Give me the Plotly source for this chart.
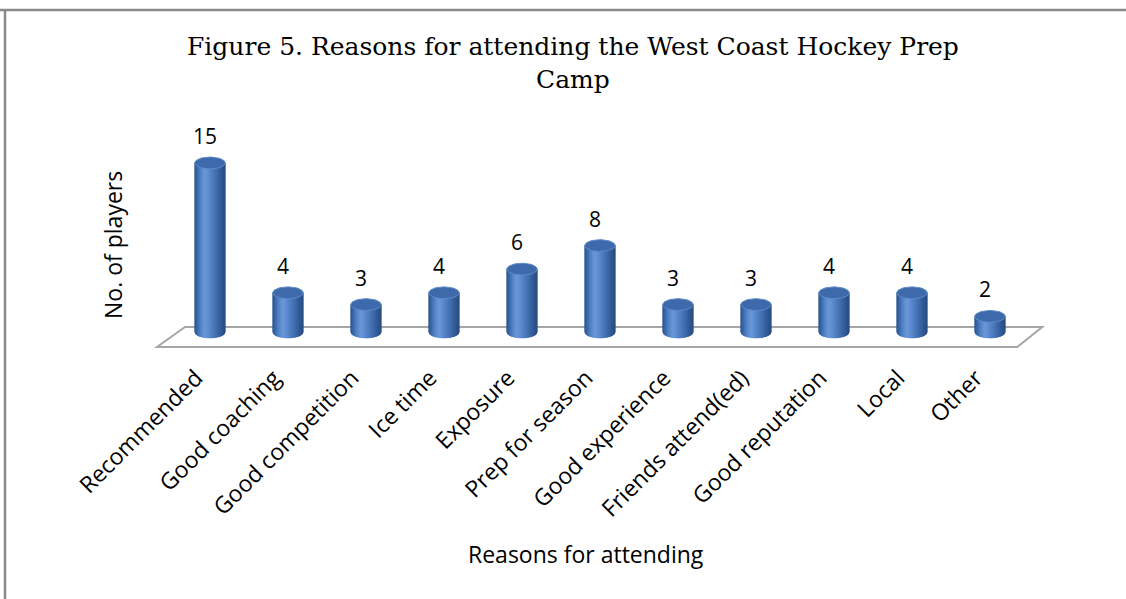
import numpy as np
import plotly.graph_objects as go

# ---- data ----
reasons = ["Recommended", "Good coaching", "Good competition", "Ice time", "Exposure",
           "Prep for season", "Good experience", "Friends attend(ed)", "Good reputation",
           "Local", "Other"]
players = [15, 4, 3, 4, 6, 8, 3, 3, 4, 4, 2]

title_text = "Figure 5. Reasons for attending the West Coast Hockey Prep<br>Camp"
x_title = "Reasons for attending"
y_title = "No. of players"

# ---- layout geometry (pixels) ----
W, H = 1126, 599
L, R, T, B = 132, 58, 139, 236
PW, PH = W - L - R, H - T - B
X_RANGE = [-1, 11]
Y_RANGE = [-1.95, 17.03]

SANS = "Open Sans"
SERIF = "DejaVu Serif"


def paper_x(px):
    return (px - L) / PW


def paper_y(py):
    return (H - B - py) / PH


# cylinder geometry in axis units
RX = 0.195      # horizontal radius
RY = 0.5        # vertical radius of the elliptical caps
BASE = 0.68     # level where cylinders stand on the floor
N_STRIPS = 40

# body shading across the cylinder (left edge -> right edge)
shade_stops = [(-1.0, (40, 80, 140)), (-0.6, (80, 130, 198)), (-0.3, (104, 153, 218)),
               (0.1, (82, 130, 196)), (0.55, (58, 102, 166)), (1.0, (38, 74, 130))]


def shade(t):
    for (t0, c0), (t1, c1) in zip(shade_stops[:-1], shade_stops[1:]):
        if t0 <= t <= t1:
            f = (t - t0) / (t1 - t0)
            c = [round(a + (b - a) * f) for a, b in zip(c0, c1)]
            return f"rgb({c[0]},{c[1]},{c[2]})"
    return "rgb(38,74,130)"


fig = go.Figure()

# cylinder bodies drawn as vertical strips, one trace per strip position
edges = np.linspace(-1, 1, N_STRIPS + 1)
for k in range(N_STRIPS):
    t0, t1 = edges[k], edges[k + 1]
    ts = np.linspace(t0, t1, 3)
    xs, ys = [], []
    for i, v in enumerate(players):
        bx = [i + RX * t for t in ts]
        by = [BASE - RY * np.sqrt(max(0.0, 1 - t * t)) for t in ts]
        xs += bx + [i + RX * t1, i + RX * t0, bx[0], None]
        ys += by + [v, v, by[0], None]
    col = shade((t0 + t1) / 2)
    fig.add_trace(go.Scatter(x=xs, y=ys, mode="lines", fill="toself", fillcolor=col,
                             line=dict(width=0.8, color=col), hoverinfo="skip",
                             showlegend=False))

# top caps
theta = np.linspace(0, 2 * np.pi, 60)
cx, cy = [], []
for i, v in enumerate(players):
    cx += list(i + RX * np.cos(theta)) + [None]
    cy += list(v + RY * np.sin(theta)) + [None]
fig.add_trace(go.Scatter(x=cx, y=cy, mode="lines", fill="toself",
                         fillcolor="rgb(62,106,172)",
                         line=dict(width=1, color="rgb(92,138,200)"),
                         hoverinfo="skip", showlegend=False))

# floor of the 3-D plot area
floor_path = "M -0.68,-0.59 L -0.32,1.1 L 10.67,1.1 L 10.35,-0.59 Z"
shapes = [
    dict(type="path", path=floor_path, xref="x", yref="y", layer="below",
         fillcolor="white", line=dict(color="#a6a6a6", width=2)),
    # chart border (top and left edges)
    dict(type="line", xref="paper", yref="paper", x0=paper_x(0), x1=paper_x(W),
         y0=paper_y(10), y1=paper_y(10), line=dict(color="#8a8a8a", width=2.5)),
    dict(type="line", xref="paper", yref="paper", x0=paper_x(5), x1=paper_x(5),
         y0=paper_y(10), y1=paper_y(H + 2), line=dict(color="#8a8a8a", width=2.5)),
]

annotations = []
# value labels above each cylinder
for i, v in enumerate(players):
    annotations.append(dict(x=i, y=v, xref="x", yref="y", text=str(v), showarrow=False,
                            xshift=-5, yshift=27,
                            font=dict(family=SANS, size=21, color="black")))

# chart title
annotations.append(dict(x=paper_x(573), y=paper_y(63), xref="paper", yref="paper",
                        text=title_text, showarrow=False, xanchor="center", yanchor="middle",
                        font=dict(family=SERIF, size=25, color="black")))
# axis titles
annotations.append(dict(x=paper_x(586), y=paper_y(554), xref="paper", yref="paper",
                        text=x_title, showarrow=False, xanchor="center", yanchor="middle",
                        font=dict(family=SANS, size=23, color="black")))
annotations.append(dict(x=paper_x(113), y=paper_y(245), xref="paper", yref="paper",
                        text=y_title, showarrow=False, textangle=-90, xanchor="center",
                        yanchor="middle", font=dict(family=SANS, size=23, color="black")))

fig.update_layout(
    width=W, height=H,
    margin=dict(l=L, r=R, t=T, b=B, autoexpand=False),
    paper_bgcolor="white", plot_bgcolor="white",
    shapes=shapes, annotations=annotations,
    showlegend=False,
)
fig.update_xaxes(range=X_RANGE, tickmode="array", tickvals=list(range(len(reasons))),
                 ticktext=reasons, tickangle=-45, showgrid=False, zeroline=False,
                 showline=False, ticks="", ticklabelstandoff=-4, ticklabelshift=-14,
                 tickfont=dict(family=SANS, size=23, color="black"), fixedrange=True)
fig.update_yaxes(range=Y_RANGE, showgrid=False, zeroline=False, showline=False,
                 showticklabels=False, ticks="", fixedrange=True)

fig.write_html("out.html", config={"displayModeBar": False})
